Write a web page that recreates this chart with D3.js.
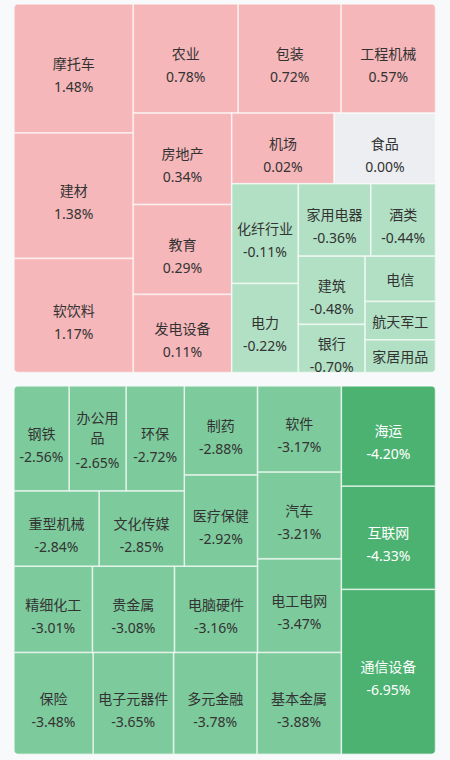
<!DOCTYPE html>
<html>
<head>
<meta charset="utf-8">
<script src="https://cdn.jsdelivr.net/npm/d3@7"></script>
<style>
html,body{margin:0;padding:0;background:#f8f9fa;}
svg{display:block;}
</style>
</head>
<body>
<svg id="chart" width="450" height="760"></svg>
<script>
// ---- data ----
const topNames = ["摩托车","建材","软饮料","农业","包装","工程机械","房地产","教育","发电设备","机场","食品","化纤行业","电力","家用电器","酒类","建筑","银行","电信","航天军工","家居用品"];
const topValues = [1.48,1.38,1.17,0.78,0.72,0.57,0.34,0.29,0.11,0.02,0.00,-0.11,-0.22,-0.36,-0.44,-0.48,-0.70,-0.71,-0.80,-0.87];
const topWeights = [15414,14984,13624,11466,11248,10308,9013,8856,7695,7244,7159,6660,5941,5263,4696,4556,3215,3190,2708,2298];

const bottomNames = ["钢铁","办公用品","环保","重型机械","文化传媒","制药","医疗保健","精细化工","贵金属","电脑硬件","软件","汽车","电工电网","保险","电子元器件","多元金融","基本金属","海运","互联网","通信设备"];
const bottomValues = [-2.56,-2.65,-2.72,-2.84,-2.85,-2.88,-2.92,-3.01,-3.08,-3.16,-3.17,-3.21,-3.47,-3.48,-3.65,-3.78,-3.88,-4.20,-4.33,-6.95];
const bottomWeights = [5758,5968,6104,6400,6423,6497,6680,6757,7077,7163,7199,7274,7850,8050,8200,8500,8600,9420,9731,15543];

// ---- styling ----
const colorScale = d3.scaleThreshold()
  .domain([-4, -1, 0, 1e-9])
  .range(["#4cb271", "#7dca9c", "#b1e0c4", "#eceef1", "#f5b7b9"]);
const textColor = v => v < -4 ? "#ffffff" : "#333333";
const NAME_FONT = '"Noto Sans CJK SC", "Noto Sans", sans-serif';
const VALUE_FONT = '"Noto Sans", "Noto Sans CJK SC", sans-serif';
const FONT_SIZE = 14;
const ctx = document.createElement("canvas").getContext("2d");
ctx.font = FONT_SIZE + "px " + NAME_FONT;

const svg = d3.select("#chart");

// squarify tiling (same algorithm as d3.treemapSquarify, allowing ratio < 1)
function squarifyTile(ratio) {
  return function(parent, x0, y0, x1, y1) {
    const nodes = parent.children, n = nodes.length;
    let i0 = 0, i1 = 0, value = parent.value;
    while (i0 < n) {
      const dx = x1 - x0, dy = y1 - y0;
      let sumValue;
      do sumValue = nodes[i1++].value; while (!sumValue && i1 < n);
      let minValue = sumValue, maxValue = sumValue;
      const alpha = Math.max(dy / dx, dx / dy) / (value * ratio);
      let beta = sumValue * sumValue * alpha;
      let minRatio = Math.max(maxValue / beta, beta / minValue);
      for (; i1 < n; ++i1) {
        const nv = nodes[i1].value;
        sumValue += nv;
        if (nv < minValue) minValue = nv;
        if (nv > maxValue) maxValue = nv;
        beta = sumValue * sumValue * alpha;
        const newRatio = Math.max(maxValue / beta, beta / minValue);
        if (newRatio > minRatio) { sumValue -= nv; break; }
        minRatio = newRatio;
      }
      const row = {value: sumValue, children: nodes.slice(i0, i1)};
      if (dx < dy) d3.treemapDice(row, x0, y0, x1, dy ? (y0 += dy * sumValue / value) : y1);
      else d3.treemapSlice(row, x0, y0, dx ? (x0 += dx * sumValue / value) : x1, y1);
      value -= sumValue;
      i0 = i1;
    }
  };
}

function wrapName(name, maxW) {
  if (ctx.measureText(name).width <= maxW) return [name];
  const lines = [];
  let cur = "";
  for (const ch of name) {
    if (cur && ctx.measureText(cur + ch).width > maxW) { lines.push(cur); cur = ch; }
    else cur += ch;
  }
  if (cur) lines.push(cur);
  return lines;
}

function drawTreemap(names, values, weights, box, flip, id) {
  const [X0, Y0, X1, Y1] = box;
  const w = X1 - X0, h = Y1 - Y0;
  const data = names.map((name, i) => ({name, change: values[i], weight: weights[i]}));
  const root = d3.hierarchy({children: data})
    .sum(d => d.weight || 0)
    .sort((a, b) => b.value - a.value);
  d3.treemap().tile(squarifyTile(0.953)).size([w, h])(root);

  svg.append("clipPath").attr("id", id)
    .append("rect").attr("x", X0).attr("y", Y0).attr("width", w).attr("height", h).attr("rx", 5).attr("ry", 5);
  const g = svg.append("g").attr("clip-path", `url(#${id})`);

  const leaves = root.leaves().map(leaf => {
    let x0 = leaf.x0, x1 = leaf.x1, y0 = leaf.y0, y1 = leaf.y1;
    if (flip) { [x0, x1] = [w - x1, w - x0]; [y0, y1] = [h - y1, h - y0]; }
    return {d: leaf.data, x0: X0 + x0, x1: X0 + x1, y0: Y0 + y0, y1: Y0 + y1};
  });

  g.selectAll("rect.tile").data(leaves).join("rect")
    .attr("class", "tile")
    .attr("x", t => t.x0).attr("y", t => t.y0)
    .attr("width", t => t.x1 - t.x0).attr("height", t => t.y1 - t.y0)
    .attr("fill", t => colorScale(t.d.change))
    .attr("stroke", "rgba(255,255,255,0.6)")
    .attr("stroke-width", 1.6);

  leaves.forEach(t => {
    const tw = t.x1 - t.x0, th = t.y1 - t.y0;
    const cx = (t.x0 + t.x1) / 2, cy = (t.y0 + t.y1) / 2;
    const lines = wrapName(t.d.name, tw - 8);
    const showValue = th >= 46;
    const n = lines.length;
    const step = 20.5;
    let first;
    if (showValue) first = cy - 5.5 - (n - 1) * 16.3;
    else first = cy - (n - 1) * step / 2;
    const fill = textColor(t.d.change);
    const nameText = g.append("text")
      .attr("text-anchor", "middle")
      .attr("font-family", NAME_FONT).attr("font-size", FONT_SIZE)
      .attr("fill", fill);
    lines.forEach((ln, i) => {
      nameText.append("tspan")
        .attr("x", cx).attr("y", first + i * step)
        .attr("dominant-baseline", "central")
        .text(ln);
    });
    if (showValue) {
      const vy = cy + 18 + (n - 1) * 6.3;
      g.append("text")
        .attr("x", cx).attr("y", vy)
        .attr("text-anchor", "middle").attr("dominant-baseline", "central")
        .attr("font-family", VALUE_FONT).attr("font-size", FONT_SIZE)
        .attr("fill", fill)
        .text(t.d.change.toFixed(2) + "%");
    }
  });
}

drawTreemap(topNames, topValues, topWeights, [14, 4, 435.5, 372.5], false, "clipTop");
drawTreemap(bottomNames, bottomValues, bottomWeights, [14, 386, 435.5, 754.3], true, "clipBottom");
</script>
</body>
</html>
